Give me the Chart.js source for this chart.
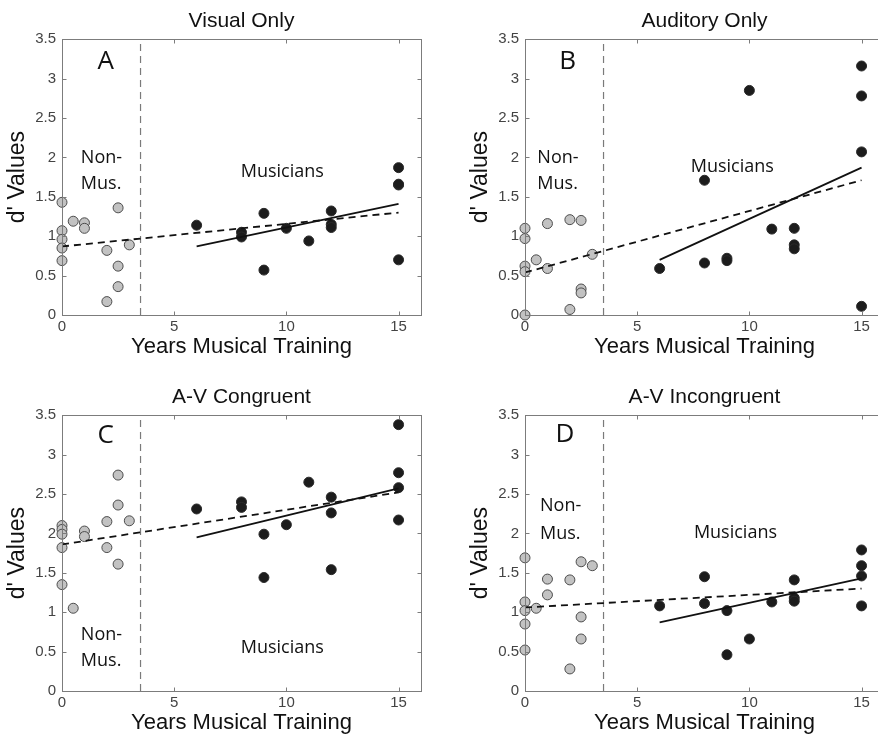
<!DOCTYPE html>
<html>
<head>
<meta charset="utf-8">
<script src="https://cdn.jsdelivr.net/npm/chart.js@4.4.0/dist/chart.umd.min.js"></script>
<style>
    html, body { margin: 0; padding: 0; background: #fff; overflow: hidden; }
    body { width: 878px; height: 734px; position: relative; }
    canvas { position: absolute; }
</style>
</head>
<body>
<canvas id="panelA" width="439" height="367" style="left:0px;top:0px"></canvas>
<canvas id="panelB" width="439" height="367" style="left:463px;top:0px"></canvas>
<canvas id="panelC" width="439" height="367" style="left:0px;top:376px"></canvas>
<canvas id="panelD" width="439" height="367" style="left:463px;top:376px"></canvas>
<script>
// years of training, shared by every panel
const nonMusYears = [0, 0, 0, 0, 0, 0.5, 1, 1, 2, 2, 2.5, 2.5, 2.5, 3];
const musYears = [6, 8, 8, 9, 9, 10, 11, 12, 12, 12, 15, 15, 15, 15];
const fitAllYears = [0, 15];
const fitMusYears = [6, 15];
const dividerYears = [3.5, 3.5];
const dividerValues = [0, 3.5];

const xTicks = [0, 5, 10, 15];
const yTicks = [0, 0.5, 1, 1.5, 2, 2.5, 3, 3.5];

// A - Visual Only
const nonMusA = [1.43, 1.07, 0.96, 0.85, 0.69, 1.19, 1.17, 1.10, 0.82, 0.17, 1.36, 0.62, 0.36, 0.89];
const musA = [1.14, 1.05, 0.99, 1.29, 0.57, 1.10, 0.94, 1.32, 1.15, 1.11, 1.87, 1.65, 1.66, 0.70];
const fitAllA = [0.87, 1.30];
const fitMusA = [0.87, 1.41];

// B - Auditory Only
const nonMusB = [1.10, 0.97, 0.62, 0.55, 0.00, 0.70, 1.16, 0.59, 1.21, 0.07, 1.20, 0.33, 0.28, 0.77];
const musB = [0.59, 1.71, 0.66, 0.72, 0.69, 2.85, 1.09, 1.10, 0.89, 0.84, 3.16, 2.78, 2.07, 0.11];
const fitAllB = [0.54, 1.71];
const fitMusB = [0.70, 1.87];

// C - A-V Congruent
const nonMusC = [2.10, 2.05, 1.99, 1.82, 1.35, 1.05, 2.03, 1.96, 2.15, 1.82, 2.74, 2.36, 1.61, 2.16];
const musC = [2.31, 2.40, 2.33, 1.99, 1.44, 2.11, 2.65, 2.46, 2.26, 1.54, 3.38, 2.77, 2.58, 2.17];
const fitAllC = [1.86, 2.52];
const fitMusC = [1.95, 2.57];

// D - A-V Incongruent
const nonMusD = [1.69, 1.13, 1.02, 0.85, 0.52, 1.05, 1.42, 1.22, 1.41, 0.28, 1.64, 0.94, 0.66, 1.59];
const musD = [1.08, 1.45, 1.11, 1.02, 0.46, 0.66, 1.13, 1.41, 1.18, 1.14, 1.79, 1.59, 1.46, 1.08];
const fitAllD = [1.06, 1.30];
const fitMusD = [0.87, 1.43];

const helv = '"Liberation Sans", Arial, sans-serif';
const noteFont = '"Open Sans", Lato, sans-serif';

const pair = (xs, ys) => xs.map((x, i) => ({ x: x, y: ys[i] }));

// box with inward ticks on all sides + the text notes
const framePlugin = {
    id: 'frame',
    afterDraw(chart, args, opts) {
        const { ctx, chartArea: a } = chart;
        const xs = chart.scales.x, ys = chart.scales.y;
        const l = Math.round(a.left) + 0.5, r = Math.round(a.right) + 0.5;
        const t = Math.round(a.top) + 0.5, b = Math.round(a.bottom) + 0.5;
        ctx.save();
        ctx.strokeStyle = '#7c7c7c';
        ctx.lineWidth = 1;
        ctx.strokeRect(l, t, r - l, b - t);
        ctx.beginPath();
        for (let v of xTicks) {
            const px = Math.round(xs.getPixelForValue(v)) + 0.5;
            ctx.moveTo(px, b); ctx.lineTo(px, b - 4);
            ctx.moveTo(px, t); ctx.lineTo(px, t + 4);
        }
        for (let v of yTicks) {
            const py = Math.round(ys.getPixelForValue(v)) + 0.5;
            ctx.moveTo(l, py); ctx.lineTo(l + 4, py);
            ctx.moveTo(r, py); ctx.lineTo(r - 4, py);
        }
        ctx.stroke();

        ctx.fillStyle = '#111';
        ctx.textBaseline = 'middle';
        ctx.textAlign = 'center';
        ctx.font = '26px ' + noteFont;
        ctx.fillText(opts.letter.text, xs.getPixelForValue(opts.letter.x), ys.getPixelForValue(opts.letter.y));
        ctx.font = '18px ' + noteFont;
        ctx.textAlign = 'left';
        ctx.fillText('Non-', xs.getPixelForValue(opts.nonMus.x), ys.getPixelForValue(opts.nonMus.y1));
        ctx.fillText('Mus.', xs.getPixelForValue(opts.nonMus.x), ys.getPixelForValue(opts.nonMus.y2));
        ctx.textAlign = 'center';
        ctx.fillText('Musicians', xs.getPixelForValue(opts.mus.x), ys.getPixelForValue(opts.mus.y));
        ctx.restore();
    }
};

function makePanel(id, title, nonMus, mus, fitAll, fitMus, notes) {
    const ctx = document.getElementById(id).getContext('2d');
    // eslint-disable-next-line no-undef
    return new Chart(ctx, {
        type: 'scatter',
        data: {
            datasets: [
                {
                    data: pair(fitMusYears, fitMus),
                    showLine: true,
                    borderColor: '#111',
                    borderWidth: 1.8,
                    pointRadius: 0
                },
                {
                    data: pair(fitAllYears, fitAll),
                    showLine: true,
                    borderColor: '#111',
                    borderWidth: 1.8,
                    borderDash: [7, 5],
                    pointRadius: 0
                },
                {
                    data: pair(musYears, mus),
                    pointRadius: 5,
                    backgroundColor: '#1c1c1c',
                    borderColor: '#2a2a2a',
                    borderWidth: 1,
                    clip: false
                },
                {
                    data: pair(nonMusYears, nonMus),
                    pointRadius: 5,
                    backgroundColor: '#c2c2c2',
                    borderColor: '#4c4c4c',
                    borderWidth: 1,
                    clip: false
                },
                {
                    data: pair(dividerYears, dividerValues),
                    showLine: true,
                    borderColor: '#7a7a7a',
                    borderWidth: 1.2,
                    borderDash: [7, 5],
                    pointRadius: 0
                }
            ]
        },
        options: {
            responsive: false,
            animation: false,
            events: [],
            layout: { padding: { left: 0, right: 18, top: 0, bottom: 0 } },
            plugins: {
                legend: { display: false },
                tooltip: { enabled: false },
                title: {
                    display: true,
                    text: title,
                    fullSize: false,
                    color: '#111',
                    font: { family: helv, size: 21, weight: 'normal', lineHeight: 1.2 },
                    padding: { top: 9, bottom: 5 }
                },
                frame: notes
            },
            scales: {
                x: {
                    type: 'linear',
                    min: 0,
                    max: 16,
                    afterBuildTicks: s => { s.ticks = xTicks.map(v => ({ value: v })); },
                    afterFit: s => { s.height = 52; },
                    grid: { display: false, drawTicks: false },
                    border: { display: false },
                    ticks: {
                        color: '#444', font: { family: helv, size: 15 }, padding: 3, maxRotation: 0,
                        callback: v => String(v)
                    },
                    title: {
                        display: true,
                        text: 'Years Musical Training',
                        color: '#111',
                        font: { family: helv, size: 22, lineHeight: 1.2 },
                        padding: { top: 0, bottom: 7 }
                    }
                },
                y: {
                    type: 'linear',
                    min: 0,
                    max: 3.5,
                    afterBuildTicks: s => { s.ticks = yTicks.map(v => ({ value: v })); },
                    afterFit: s => { s.width = 62; },
                    grid: { display: false, drawTicks: false },
                    border: { display: false },
                    ticks: {
                        color: '#444', font: { family: helv, size: 15 }, padding: 6,
                        callback: v => String(v)
                    },
                    title: {
                        display: true,
                        text: "d' Values",
                        color: '#111',
                        font: { family: helv, size: 23, lineHeight: 1.2 },
                        padding: { top: 4, bottom: 0 }
                    }
                }
            }
        },
        plugins: [framePlugin]
    });
}

makePanel('panelA', 'Visual Only', nonMusA, musA, fitAllA, fitMusA, {
    letter: { text: 'A', x: 1.95, y: 3.22 },
    nonMus: { x: 0.84, y1: 2.0, y2: 1.67 },
    mus: { x: 9.82, y: 1.81 }
});
makePanel('panelB', 'Auditory Only', nonMusB, musB, fitAllB, fitMusB, {
    letter: { text: 'B', x: 1.9, y: 3.22 },
    nonMus: { x: 0.55, y1: 2.0, y2: 1.67 },
    mus: { x: 9.24, y: 1.88 }
});
makePanel('panelC', 'A-V Congruent', nonMusC, musC, fitAllC, fitMusC, {
    letter: { text: 'C', x: 1.95, y: 3.24 },
    nonMus: { x: 0.84, y1: 0.71, y2: 0.38 },
    mus: { x: 9.82, y: 0.55 }
});
makePanel('panelD', 'A-V Incongruent', nonMusD, musD, fitAllD, fitMusD, {
    letter: { text: 'D', x: 1.78, y: 3.26 },
    nonMus: { x: 0.67, y1: 2.35, y2: 2.0 },
    mus: { x: 9.38, y: 2.01 }
});
</script>
</body>
</html>
